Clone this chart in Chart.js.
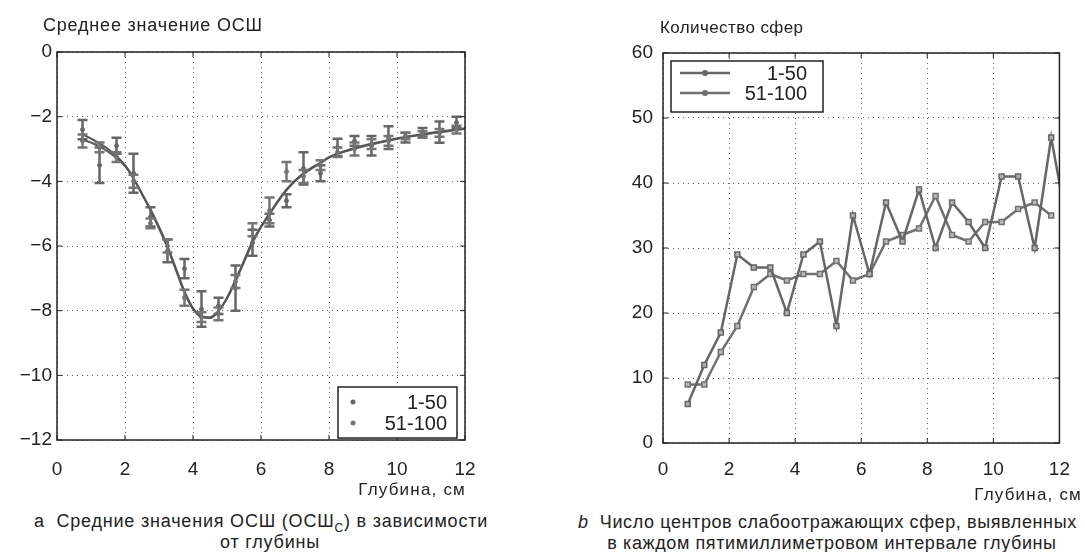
<!DOCTYPE html>
<html lang="ru">
<head>
<meta charset="utf-8">
<title>ОСШ и количество сфер по глубине</title>
<script src="https://cdn.jsdelivr.net/npm/chart.js@4.4.1/dist/chart.umd.min.js"></script>
<style>
  body {
    margin: 0;
    width: 1085px;
    height: 552px;
    position: relative;
    overflow: hidden;
    background: #fff;
    font-family: "Liberation Sans", Arial, sans-serif;
    color: #222;
  }
  canvas { position: absolute; top: 0; }
  #chartA { left: 0; }
  #chartB { left: 600px; }
  .txt { position: absolute; white-space: nowrap; line-height: 1; }
  .title { font-size: 18px; letter-spacing: 0.8px; }
  .title.b { font-size: 17px; letter-spacing: 0.4px; }
  .axis { font-size: 17px; letter-spacing: 1.2px; }
  .cap { font-size: 18px; letter-spacing: 0.8px; }
  .cap.b { letter-spacing: 0.6px; }
  .cap sub { font-size: 12px; }
</style>
</head>
<body>
<canvas id="chartA" width="520" height="500"></canvas>
<canvas id="chartB" width="485" height="500"></canvas>

<div class="txt title" style="left:43px; top:16px;">Среднее значение ОСШ</div>
<div class="txt title b" style="left:660px; top:19px;">Количество сфер</div>
<div class="txt axis" style="right:619px; top:481px;">Глубина, см</div>
<div class="txt axis" style="right:3px; top:486px;">Глубина, см</div>
<div class="txt cap" style="left:34px; top:512px;">а&nbsp;&nbsp;Средние значения ОСШ (ОСШ<sub>С</sub>) в зависимости</div>
<div class="txt cap" style="left:170px; width:200px; text-align:center; top:533px;">от глубины</div>
<div class="txt cap b" style="left:578px; top:513px;"><i>b</i>&nbsp;&nbsp;Число центров слабоотражающих сфер, выявленных</div>
<div class="txt cap b" style="left:582px; width:500px; text-align:center; top:534px;">в каждом пятимиллиметровом интервале глубины</div>

<script>
// Shared axis ticks
const depthTicks = [0, 2, 4, 6, 8, 10, 12];
const snrTicks = [0, -2, -4, -6, -8, -10, -12];
const countTicks = [0, 10, 20, 30, 40, 50, 60];

// Panel a: mean SNR by depth, two groups with error bars
const depth = [0.75, 1.25, 1.75, 2.25, 2.75, 3.25, 3.75, 4.25, 4.75, 5.25, 5.75, 6.25,
               6.75, 7.25, 7.75, 8.25, 8.75, 9.25, 9.75, 10.25, 10.75, 11.25, 11.75];
const snr1 = [-2.4, -3.5, -2.9, -3.75, -5.1, -6.15, -6.7, -7.95, -7.85, -7.3, -5.9, -5.2,
              -4.6, -3.6, -3.75, -2.95, -2.75, -2.9, -2.65, -2.65, -2.48, -2.48, -2.18];
const err1 = [0.3, 0.55, 0.25, 0.6, 0.3, 0.35, 0.3, 0.55, 0.25, 0.7, 0.4, 0.2,
              0.2, 0.5, 0.25, 0.27, 0.15, 0.3, 0.35, 0.15, 0.13, 0.33, 0.18];
const snr2 = [-2.75, -2.95, -3.25, -4.0, -5.3, -6.0, -7.6, -8.2, -8.1, -7.1, -5.5, -4.9,
              -3.7, -3.85, -3.5, -3.1, -3.0, -2.85, -2.75, -2.6, -2.55, -2.5, -2.4];
const err2 = [0.2, 0.15, 0.15, 0.2, 0.15, 0.2, 0.25, 0.15, 0.2, 0.2, 0.2, 0.4,
              0.3, 0.2, 0.15, 0.15, 0.2, 0.15, 0.15, 0.1, 0.1, 0.12, 0.12];

// fitted curves
const fitDepth = [0.75, 1, 1.5, 2, 2.25, 2.5, 2.75, 3, 3.25, 3.5, 3.75, 4, 4.25, 4.5, 4.75, 5,
                  5.25, 5.5, 5.75, 6, 6.25, 6.5, 6.75, 7, 7.25, 7.5, 7.75, 8, 8.5, 9, 9.5,
                  10, 10.5, 11, 11.5, 12];
const fit1 = [-2.55, -2.68, -3.0, -3.5, -3.9, -4.4, -4.9, -5.45, -6.05, -6.75, -7.45, -7.95,
              -8.2, -8.23, -8.02, -7.6, -7.05, -6.45, -5.85, -5.4, -5.0, -4.6, -4.25, -3.97,
              -3.75, -3.57, -3.42, -3.25, -3.05, -2.9, -2.78, -2.67, -2.58, -2.5, -2.43, -2.36];
const fit2 = [-2.72, -2.8, -3.08, -3.53, -3.92, -4.38, -4.86, -5.4, -6.0, -6.7, -7.4, -7.92,
              -8.16, -8.2, -8.0, -7.62, -7.1, -6.5, -5.9, -5.42, -5.02, -4.63, -4.28, -4.0,
              -3.78, -3.6, -3.44, -3.27, -3.07, -2.92, -2.8, -2.69, -2.6, -2.52, -2.45, -2.38];

// Panel b: number of sphere centres per 5 mm depth bin
const binDepth = [0.75, 1.25, 1.75, 2.25, 2.75, 3.25, 3.75, 4.25, 4.75, 5.25, 5.75, 6.25,
                  6.75, 7.25, 7.75, 8.25, 8.75, 9.25, 9.75, 10.25, 10.75, 11.25, 11.75, 12.25];
const count1 = [6, 12, 17, 29, 27, 27, 20, 29, 31, 18, 35, 26,
                37, 31, 39, 30, 37, 34, 30, 41, 41, 30, 47, 33];
const count2 = [9, 9, 14, 18, 24, 26, 25, 26, 26, 28, 25, 26,
                31, 32, 33, 38, 32, 31, 34, 34, 36, 37, 35];

const groupLabels = ['1-50', '51-100'];

const tickFont = { family: '"Liberation Sans", Arial, sans-serif', size: 19 };
const gridColor = 'rgba(0, 0, 0, 0.6)';

function pairs(xs, ys) {
    return ys.map((v, i) => ({ x: xs[i], y: v }));
}

function fixedTicks(values) {
    return (scale) => { scale.ticks = values.map(v => ({ value: v })); };
}

// Plugins
const errorBars = {
    id: 'errorBars',
    afterDatasetsDraw(chart) {
        const { ctx, scales: { x, y } } = chart;
        chart.data.datasets.forEach((ds) => {
            if (!ds.errors) return;
            ctx.save();
            ctx.strokeStyle = ds.borderColor;
            ctx.lineWidth = 2.5;
            ds.data.forEach((pt, i) => {
                const px = x.getPixelForValue(pt.x);
                const top = y.getPixelForValue(pt.y + ds.errors[i]);
                const bot = y.getPixelForValue(pt.y - ds.errors[i]);
                ctx.beginPath();
                ctx.moveTo(px, top); ctx.lineTo(px, bot);
                ctx.moveTo(px - 5, top); ctx.lineTo(px + 5, top);
                ctx.moveTo(px - 5, bot); ctx.lineTo(px + 5, bot);
                ctx.stroke();
            });
            ctx.restore();
        });
    }
};

const frameBox = {
    id: 'frameBox',
    afterDatasetsDraw(chart) {
        const { ctx, chartArea: a, scales: { x, y } } = chart;
        ctx.save();
        ctx.strokeStyle = '#222';
        ctx.lineWidth = 1.5;
        ctx.strokeRect(a.left, a.top, a.right - a.left, a.bottom - a.top);
        ctx.lineWidth = 1;
        ctx.beginPath();
        x.ticks.forEach((t) => {
            const px = x.getPixelForValue(t.value);
            ctx.moveTo(px, a.bottom); ctx.lineTo(px, a.bottom - 5);
            ctx.moveTo(px, a.top); ctx.lineTo(px, a.top + 5);
        });
        y.ticks.forEach((t) => {
            const py = y.getPixelForValue(t.value);
            ctx.moveTo(a.left, py); ctx.lineTo(a.left + 5, py);
            ctx.moveTo(a.right, py); ctx.lineTo(a.right - 5, py);
        });
        ctx.stroke();
        ctx.restore();
    }
};

const boxLegend = {
    id: 'boxLegend',
    afterDraw(chart, args, opts) {
        const { ctx } = chart;
        const items = chart.data.datasets.filter(ds => ds.inLegend);
        ctx.save();
        ctx.fillStyle = '#fff';
        ctx.fillRect(opts.x, opts.y, opts.w, opts.h);
        ctx.strokeStyle = '#222';
        ctx.lineWidth = 1.5;
        ctx.strokeRect(opts.x, opts.y, opts.w, opts.h);
        ctx.font = '20px "Liberation Sans", Arial, sans-serif';
        ctx.textAlign = 'right';
        ctx.textBaseline = 'middle';
        items.forEach((ds, i) => {
            const cy = opts.y + opts.rowTop + i * opts.rowGap;
            ctx.strokeStyle = ds.borderColor;
            ctx.fillStyle = ds.borderColor;
            if (opts.line) {
                ctx.lineWidth = 2.5;
                ctx.beginPath();
                ctx.moveTo(opts.x + opts.lineFrom, cy);
                ctx.lineTo(opts.x + opts.lineTo, cy);
                ctx.stroke();
            }
            ctx.beginPath();
            ctx.arc(opts.x + opts.markerX, cy, opts.markerR, 0, Math.PI * 2);
            ctx.fill();
            ctx.fillStyle = '#222';
            ctx.fillText(ds.label, opts.x + opts.textRight, cy + 1);
        });
        ctx.restore();
    }
};

function axes(xMin, xMax, xTicks, yMin, yMax, yTicks, xPad, yPad, yWidth, xHeight) {
    return {
        x: {
            type: 'linear', min: xMin, max: xMax,
            afterBuildTicks: fixedTicks(xTicks),
            afterFit: (s) => { s.height = xHeight; },
            grid: { color: gridColor, lineWidth: 1, drawTicks: false },
            border: { display: false, dash: [1, 4] },
            ticks: { font: tickFont, color: '#222', padding: xPad, maxRotation: 0 }
        },
        y: {
            type: 'linear', min: yMin, max: yMax,
            afterBuildTicks: fixedTicks(yTicks),
            afterFit: (s) => { s.width = yWidth; },
            grid: { color: gridColor, lineWidth: 1, drawTicks: false },
            border: { display: false, dash: [1, 4] },
            ticks: {
                font: tickFont, color: '#222', padding: yPad,
                callback: (v) => String(v).replace('-', '\u2212')
            }
        }
    };
}

// Chart a
new Chart(document.getElementById('chartA'), {
    type: 'line',
    data: {
        datasets: [
            {
                label: groupLabels[0], data: pairs(depth, snr1), errors: err1, inLegend: true,
                showLine: false, borderColor: '#666', backgroundColor: '#666',
                pointRadius: 2, pointHoverRadius: 2
            },
            {
                label: groupLabels[1], data: pairs(depth, snr2), errors: err2, inLegend: true,
                showLine: false, borderColor: '#757575', backgroundColor: '#757575',
                pointRadius: 2, pointHoverRadius: 2
            },
            {
                label: 'fit ' + groupLabels[0], data: pairs(fitDepth, fit1),
                borderColor: '#555', borderWidth: 2, pointRadius: 0,
                cubicInterpolationMode: 'monotone'
            },
            {
                label: 'fit ' + groupLabels[1], data: pairs(fitDepth, fit2),
                borderColor: '#5e5e5e', borderWidth: 2, pointRadius: 0,
                cubicInterpolationMode: 'monotone'
            }
        ]
    },
    options: {
        responsive: false,
        animation: false,
        devicePixelRatio: 1,
        layout: { padding: { top: 52, right: 55, left: 0, bottom: 0 } },
        scales: axes(0, 12, depthTicks, -12, 0, snrTicks, 18, 5, 57, 60),
        plugins: {
            legend: { display: false },
            tooltip: { enabled: false },
            boxLegend: {
                x: 338, y: 387, w: 119, h: 51, rowTop: 15, rowGap: 21,
                markerX: 15, markerR: 2.5, textRight: 109, line: false
            }
        }
    },
    plugins: [errorBars, frameBox, boxLegend]
});

// Chart b
new Chart(document.getElementById('chartB'), {
    type: 'line',
    data: {
        datasets: [
            {
                label: groupLabels[0], data: pairs(binDepth, count1), inLegend: true,
                borderColor: '#666', borderWidth: 2.5,
                pointStyle: 'rect', pointRadius: 3.5, pointBorderWidth: 1.5,
                pointBackgroundColor: '#b0b0b0', pointBorderColor: '#666'
            },
            {
                label: groupLabels[1], data: pairs(binDepth, count2), inLegend: true,
                borderColor: '#707070', borderWidth: 2.5,
                pointStyle: 'rect', pointRadius: 3.5, pointBorderWidth: 1.5,
                pointBackgroundColor: '#b8b8b8', pointBorderColor: '#707070'
            }
        ]
    },
    options: {
        responsive: false,
        animation: false,
        devicePixelRatio: 1,
        layout: { padding: { top: 53, right: 20, left: 0, bottom: 0 } },
        scales: axes(0, 12, depthTicks, 0, 60, countTicks, 15, 10, 63, 57),
        plugins: {
            legend: { display: false },
            tooltip: { enabled: false },
            boxLegend: {
                x: 71, y: 61, w: 152, h: 51, rowTop: 12, rowGap: 20,
                markerX: 34, markerR: 3, textRight: 136, line: true, lineFrom: 9, lineTo: 59
            }
        }
    },
    plugins: [frameBox, boxLegend]
});
</script>
</body>
</html>
